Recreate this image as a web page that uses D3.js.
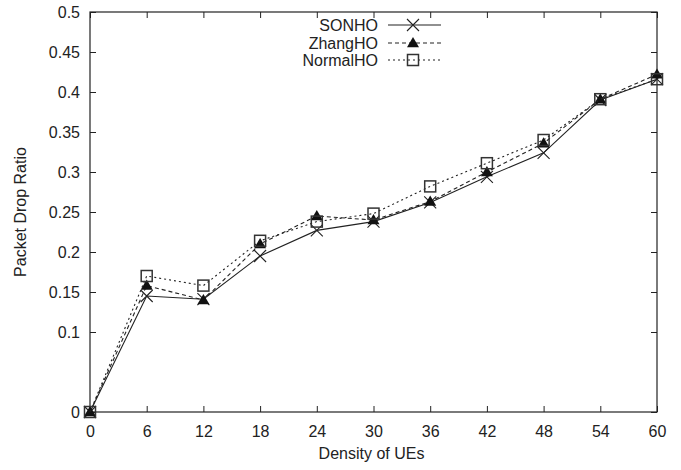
<!DOCTYPE html>
<html><head><meta charset="utf-8">
<script src="https://cdn.jsdelivr.net/npm/d3@7"></script>
<style>body{margin:0;background:#fff}text{font-family:"Liberation Sans",Arial,sans-serif;fill:#222}</style>
</head><body><svg id="c" width="681" height="470"></svg>
<script>
const xValues = [0, 6, 12, 18, 24, 30, 36, 42, 48, 54, 60];
const sonho   = [0, 0.145, 0.141, 0.195, 0.227, 0.238, 0.262, 0.294, 0.324, 0.390, 0.416];
const zhangho = [0, 0.158, 0.140, 0.210, 0.245, 0.240, 0.263, 0.300, 0.336, 0.391, 0.422];
const normalho= [0, 0.170, 0.158, 0.214, 0.238, 0.248, 0.282, 0.311, 0.340, 0.391, 0.416];
const seriesNames = ["SONHO", "ZhangHO", "NormalHO"];
const xTicks = [0, 6, 12, 18, 24, 30, 36, 42, 48, 54, 60];
const yTicks = [0, 0.1, 0.15, 0.2, 0.25, 0.3, 0.35, 0.4, 0.45, 0.5];

const svg = d3.select("#c");
const L = 90, R = 657, T = 12, B = 412;
const x = d3.scaleLinear().domain([0, 60]).range([L, R]);
const y = d3.scaleLinear().domain([0, 0.5]).range([B, T]);
const ink = "#222";
const tl = 6;

// axes
const fmt = d => d === 0 ? "0" : String(d);
svg.append("g").attr("transform", `translate(0,${B})`)
  .call(d3.axisBottom(x).tickValues(xTicks).tickSize(-tl).tickPadding(14).tickFormat(fmt));
svg.append("g").attr("transform", `translate(0,${T})`)
  .call(d3.axisTop(x).tickValues(xTicks).tickSize(-tl).tickFormat(""));
svg.append("g").attr("transform", `translate(${L},0)`)
  .call(d3.axisLeft(y).tickValues(yTicks).tickSize(-tl).tickPadding(10).tickFormat(fmt));
svg.append("g").attr("transform", `translate(${R},0)`)
  .call(d3.axisRight(y).tickValues(yTicks).tickSize(-tl).tickFormat(""));
svg.selectAll(".domain").remove();
svg.selectAll(".tick line").attr("stroke", ink);
svg.selectAll(".tick text").attr("font-size", 16).attr("fill", ink)
  .style("font-family", '"Liberation Sans",Arial,sans-serif');
svg.append("rect").attr("x", L).attr("y", T).attr("width", R - L).attr("height", B - T)
  .attr("fill", "none").attr("stroke", ink).attr("stroke-width", 1.2);

// labels
svg.append("text").attr("x", (L + R) / 2 - 2).attr("y", 459).attr("text-anchor", "middle")
  .attr("font-size", 16).text("Density of UEs");
svg.append("text").attr("transform", "translate(26,212) rotate(-90)").attr("text-anchor", "middle")
  .attr("font-size", 16).text("Packet Drop Ratio");

const styles = [
  {data: sonho, dash: null, marker: "x"},
  {data: zhangho, dash: "4,3", marker: "tri"},
  {data: normalho, dash: "2,3", marker: "sq"}
];

function drawMarker(g, type, cx, cy) {
  if (type === "x") {
    const s = 6;
    g.append("path").attr("d", `M${cx-s},${cy-s}L${cx+s},${cy+s}M${cx-s},${cy+s}L${cx+s},${cy-s}`)
      .attr("stroke", ink).attr("stroke-width", 1.1).attr("fill", "none");
  } else if (type === "tri") {
    const s = 6;
    g.append("path").attr("d", `M${cx},${cy-s}L${cx+s},${cy+s*0.7}L${cx-s},${cy+s*0.7}Z`)
      .attr("fill", "#111");
  } else {
    const s = 5.5;
    g.append("rect").attr("x", cx - s).attr("y", cy - s).attr("width", 2*s).attr("height", 2*s)
      .attr("fill", "none").attr("stroke", "#333").attr("stroke-width", 1.5);
  }
}

const line = d3.line().x((d, i) => x(xValues[i])).y(d => y(d));
styles.forEach(s => {
  svg.append("path").attr("d", line(s.data)).attr("fill", "none").attr("stroke", ink)
    .attr("stroke-width", 1.1).attr("stroke-dasharray", s.dash);
  const g = svg.append("g");
  s.data.forEach((v, i) => drawMarker(g, s.marker, x(xValues[i]), y(v)));
});

// legend
const legY = [25, 43, 60];
styles.forEach((s, i) => {
  svg.append("text").attr("x", 378).attr("y", legY[i]).attr("dy", "0.35em")
    .attr("text-anchor", "end").attr("font-size", 16).text(seriesNames[i]);
  svg.append("line").attr("x1", 388).attr("x2", 441).attr("y1", legY[i]).attr("y2", legY[i])
    .attr("stroke", ink).attr("stroke-width", 1.1).attr("stroke-dasharray", s.dash);
  drawMarker(svg, s.marker, 413, legY[i]);
});
</script></body></html>
